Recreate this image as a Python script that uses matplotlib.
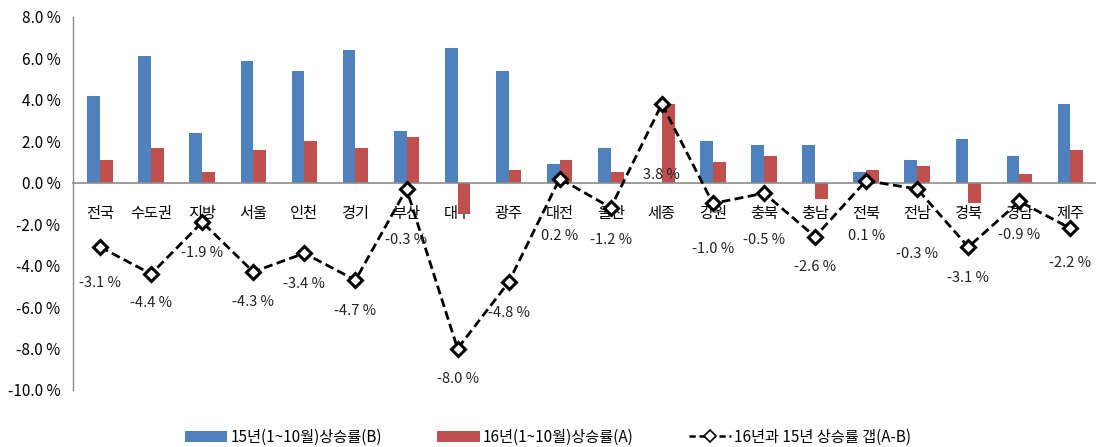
#! /usr/bin/env python

# regional price growth: 15 vs 16 (Jan~Oct) and the gap between them
import numpy as np
import matplotlib.pyplot as plt
import matplotlib
from matplotlib.lines import Line2D
from matplotlib.patches import Patch

matplotlib.rcParams['font.family'] = ['Noto Sans CJK KR', 'DejaVu Sans']
matplotlib.rcParams['font.size'] = 11

regions = ['전국', '수도권', '지방', '서울', '인천', '경기', '부산', '대구', '광주', '대전',
           '울산', '세종', '강원', '충북', '충남', '전북', '전남', '경북', '경남', '제주']

# 15년(1~10월) 상승률 (B)
rate15 = [4.2, 6.1, 2.4, 5.9, 5.4, 6.4, 2.5, 6.5, 5.4, 0.9,
          1.7, 0.0, 2.0, 1.8, 1.8, 0.5, 1.1, 2.1, 1.3, 3.8]
# 16년(1~10월) 상승률 (A)
rate16 = [1.1, 1.7, 0.5, 1.6, 2.0, 1.7, 2.2, -1.5, 0.6, 1.1,
          0.5, 3.8, 1.0, 1.3, -0.8, 0.6, 0.8, -1.0, 0.4, 1.6]
# 상승률 갭 (A-B)
gap = [-3.1, -4.4, -1.9, -4.3, -3.4, -4.7, -0.3, -8.0, -4.8, 0.2,
       -1.2, 3.8, -1.0, -0.5, -2.6, 0.1, -0.3, -3.1, -0.9, -2.2]

# vertical offset (points) of each gap label below its marker
label_dy = [-26, -21, -22, -22, -22, -22, -37, -22, -22, -41,
            -23, -51, -33, -34, -22, -40, -47, -22, -24, -25]

blue = '#4F81BD'
red = '#C0504D'

fig = plt.figure(figsize=[10.96, 4.47], dpi=100)
ax = fig.add_axes([73/1096, 57/447, 1023/1096, 373/447])

x = np.arange(len(regions))
w = 0.25

ax.bar(x - w/2, rate15, w, color=blue, zorder=2)
ax.bar(x + w/2, rate16, w, color=red, zorder=2)

ax.plot(x, gap, color='black', linestyle=(0, (3.2, 1.6)), linewidth=2.0,
        marker='D', markersize=7, markerfacecolor='white',
        markeredgecolor='black', markeredgewidth=2.2, zorder=4)

for xi, g, dy in zip(x, gap, label_dy):
    ax.annotate('%.1f %%' % g, (xi, g), xytext=(0, dy), textcoords='offset points',
                ha='center', va='center', fontsize=10.5, color='#222222', zorder=5)

ax.set_xlim(-0.53, len(regions) - 0.5)
ax.set_ylim(-10, 8)
ax.set_yticks(np.arange(-10, 8.1, 2))
ax.set_yticklabels(['%.1f %%' % v for v in np.arange(-10, 8.1, 2)], fontsize=11)

ax.set_xticks(x)
ax.set_xticklabels(regions, fontsize=13)
ax.tick_params(axis='x', length=0, pad=16)
ax.tick_params(axis='y', length=0, pad=9)

for s in ['top', 'right']:
    ax.spines[s].set_visible(False)
ax.spines['bottom'].set_position(('data', 0))
ax.spines['bottom'].set_color('#8c8c8c')
ax.spines['bottom'].set_linewidth(1.2)
ax.spines['left'].set_color('#8c8c8c')
ax.spines['left'].set_linewidth(1.0)

handles = [Patch(facecolor=blue, edgecolor='none'),
           Patch(facecolor=red, edgecolor='none'),
           Line2D([0], [0], color='black', linestyle=(0, (2.5, 1.5)), linewidth=1.8,
                  marker='D', markersize=6, markerfacecolor='white',
                  markeredgecolor='black', markeredgewidth=1.2)]
labels = ['15년(1~10월)상승률(B)', '16년(1~10월)상승률(A)', '16년과 15년 상승률 갭(A-B)']
fig.legend(handles, labels, loc='center', bbox_to_anchor=(0.5, 0.022), ncol=3,
           frameon=False, fontsize=11, handlelength=2.8, handleheight=0.7,
           columnspacing=3.6, handletextpad=0.2)

plt.savefig('out.png', dpi=100)
plt.close()
